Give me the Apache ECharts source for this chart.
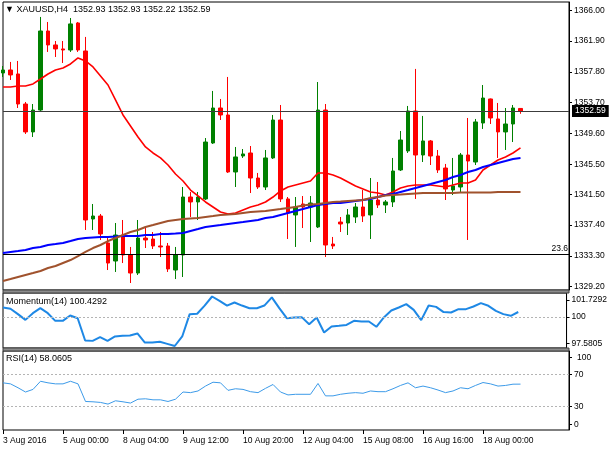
<!DOCTYPE html>
<html>
<head>
<meta charset="utf-8">
<script src="https://cdn.jsdelivr.net/npm/echarts@6/dist/echarts.min.js"></script>
<style>
html, body { margin: 0; padding: 0; background: #fff; }
#chart { width: 610px; height: 450px; }
</style>
</head>
<body>
<div id="chart"></div>
<script>
// XAUUSD H4, one entry per bar, oldest first
var timeLabels = ['3 Aug 2016', '5 Aug 00:00', '8 Aug 04:00', '9 Aug 12:00', '10 Aug 20:00',
    '12 Aug 04:00', '15 Aug 08:00', '16 Aug 16:00', '18 Aug 00:00'];
var priceTicks = [1329.20, 1333.30, 1337.40, 1341.50, 1345.50, 1349.60, 1353.70, 1357.80, 1361.90, 1366.00];
var momTicks = [97.5805, 100, 101.7292];
var rsiTicks = [0, 30, 70, 100];
var rsiLevels = [70, 30];

// open, close, low, high
var ohlc = [
    [1357.65, 1358.05, 1357.12, 1358.58], [1358.05, 1357.39, 1356.72, 1359.12],
    [1357.52, 1353.52, 1352.99, 1359.25], [1353.52, 1349.80, 1349.53, 1353.79],
    [1349.80, 1352.72, 1349.13, 1353.52], [1352.72, 1363.24, 1352.59, 1365.11],
    [1363.24, 1361.38, 1360.45, 1364.44], [1361.38, 1360.85, 1359.78, 1361.91],
    [1360.85, 1360.71, 1358.98, 1361.91], [1360.71, 1364.18, 1360.45, 1364.97],
    [1364.31, 1360.71, 1360.45, 1364.44], [1360.58, 1338.08, 1336.75, 1362.45],
    [1338.21, 1338.61, 1336.75, 1340.21], [1338.61, 1336.22, 1335.42, 1338.88],
    [1335.02, 1332.35, 1331.42, 1335.82], [1332.62, 1336.08, 1331.16, 1337.68],
    [1336.08, 1333.42, 1332.35, 1338.08], [1333.42, 1331.02, 1329.69, 1334.49],
    [1331.02, 1335.68, 1330.76, 1338.08], [1335.68, 1335.42, 1334.35, 1337.28],
    [1335.55, 1334.62, 1334.22, 1336.48], [1334.62, 1334.49, 1333.15, 1336.48],
    [1334.62, 1331.56, 1331.16, 1335.02], [1331.42, 1333.42, 1330.22, 1334.49],
    [1333.42, 1341.14, 1330.49, 1342.47], [1341.14, 1340.48, 1338.48, 1341.81],
    [1340.48, 1341.14, 1338.08, 1341.81], [1340.88, 1348.46, 1340.74, 1348.99],
    [1348.33, 1352.99, 1348.20, 1355.26], [1352.99, 1352.06, 1351.39, 1354.19],
    [1352.06, 1344.47, 1344.34, 1357.12], [1344.47, 1346.47, 1342.47, 1347.80],
    [1346.60, 1346.87, 1346.34, 1347.53], [1347.00, 1343.67, 1341.67, 1347.93],
    [1343.67, 1342.47, 1342.21, 1344.34], [1342.47, 1346.34, 1342.07, 1347.40],
    [1346.34, 1351.39, 1346.20, 1352.06], [1351.39, 1340.88, 1340.48, 1353.39],
    [1340.88, 1339.01, 1335.55, 1341.14], [1338.75, 1339.81, 1334.49, 1341.14],
    [1340.21, 1339.81, 1337.01, 1341.27], [1339.81, 1340.34, 1335.15, 1341.27],
    [1337.15, 1352.72, 1337.01, 1356.45], [1352.72, 1334.75, 1333.15, 1353.52],
    [1334.88, 1334.62, 1334.22, 1335.82], [1337.81, 1337.55, 1336.48, 1338.48],
    [1337.68, 1338.75, 1336.08, 1339.54], [1338.48, 1339.81, 1337.68, 1340.34],
    [1339.81, 1338.61, 1337.81, 1342.07], [1338.75, 1340.74, 1335.55, 1343.67],
    [1340.74, 1340.08, 1339.68, 1343.14], [1340.08, 1340.48, 1339.01, 1340.74],
    [1340.48, 1344.60, 1339.81, 1346.34], [1344.74, 1348.73, 1344.60, 1349.93],
    [1347.27, 1352.59, 1347.00, 1353.26], [1352.59, 1346.73, 1340.88, 1358.19],
    [1346.73, 1348.60, 1345.80, 1351.93], [1348.60, 1346.60, 1345.40, 1348.73],
    [1346.60, 1344.74, 1344.34, 1347.40], [1345.00, 1342.21, 1340.74, 1345.54],
    [1342.07, 1342.61, 1341.41, 1346.34], [1342.47, 1346.73, 1341.81, 1347.00],
    [1346.73, 1345.93, 1335.42, 1351.66], [1345.80, 1351.13, 1345.40, 1351.53],
    [1350.99, 1354.32, 1350.20, 1356.05], [1354.19, 1351.66, 1350.86, 1354.25],
    [1351.53, 1349.80, 1346.34, 1353.66], [1349.80, 1350.86, 1347.40, 1352.99],
    [1350.86, 1352.99, 1348.46, 1353.39], [1352.93, 1352.59, 1352.22, 1352.93]
];

var maRed = [1355.79, 1355.79, 1355.92, 1355.92, 1356.19, 1356.85, 1357.52, 1358.05, 1358.32, 1358.85,
    1359.65, 1359.25, 1358.45, 1357.25, 1356.05, 1354.06, 1352.06, 1350.59, 1349.13, 1347.80,
    1347.00, 1346.34, 1345.40, 1344.20, 1343.27, 1342.07, 1341.28, 1340.48, 1339.81, 1339.14,
    1338.88, 1339.01, 1339.41, 1339.81, 1340.08, 1340.48, 1341.14, 1341.94, 1342.47, 1342.74,
    1343.01, 1343.27, 1344.34, 1344.34, 1344.07, 1343.67, 1343.14, 1342.61, 1342.21, 1341.81,
    1341.67, 1341.41, 1341.81, 1342.34, 1342.61, 1342.74, 1342.74, 1342.74, 1342.61, 1342.47,
    1342.74, 1343.01, 1343.01, 1343.41, 1344.74, 1345.40, 1346.07, 1346.47, 1347.00, 1347.67];

var maBlue = [1333.69, 1333.82, 1333.95, 1334.09, 1334.35, 1334.49, 1334.75, 1334.88, 1335.02, 1335.28,
    1335.55, 1335.68, 1335.75, 1335.82, 1335.82, 1335.88, 1335.95, 1335.95, 1335.95, 1336.08,
    1336.08, 1336.22, 1336.22, 1336.28, 1336.35, 1336.62, 1336.88, 1337.15, 1337.28, 1337.41,
    1337.55, 1337.68, 1337.81, 1337.95, 1338.08, 1338.35, 1338.48, 1338.75, 1339.01, 1339.28,
    1339.54, 1339.81, 1340.08, 1340.21, 1340.34, 1340.34, 1340.48, 1340.61, 1340.74, 1340.88,
    1341.14, 1341.41, 1341.54, 1341.81, 1342.07, 1342.34, 1342.61, 1342.87, 1343.14, 1343.41,
    1343.81, 1344.07, 1344.47, 1344.74, 1345.14, 1345.40, 1345.67, 1345.93, 1346.20, 1346.34];

var maBrown = [1329.96, 1330.22, 1330.49, 1330.76, 1331.02, 1331.29, 1331.69, 1331.95, 1332.35, 1332.75,
    1333.28, 1333.82, 1334.35, 1334.75, 1335.28, 1335.68, 1336.08, 1336.48, 1336.75, 1337.15,
    1337.41, 1337.68, 1337.95, 1338.08, 1338.21, 1338.28, 1338.35, 1338.48, 1338.61, 1338.75,
    1338.81, 1338.88, 1339.01, 1339.14, 1339.21, 1339.28, 1339.41, 1339.54, 1339.68, 1339.81,
    1340.01, 1340.14, 1340.21, 1340.34, 1340.48, 1340.54, 1340.61, 1340.68, 1340.74, 1341.01,
    1341.14, 1341.34, 1341.41, 1341.47, 1341.54, 1341.61, 1341.67, 1341.67, 1341.67, 1341.67,
    1341.67, 1341.74, 1341.74, 1341.74, 1341.74, 1341.74, 1341.81, 1341.81, 1341.81, 1341.81];

var momentum = [100.81, 100.70, 100.25, 99.77, 100.33, 100.75, 100.33, 99.69, 99.69, 100.14,
    99.91, 98.04, 98.01, 98.32, 98.01, 98.38, 98.43, 98.46, 98.63, 97.87,
    97.87, 97.93, 97.76, 97.5805, 98.38, 100.25, 100.28, 100.97, 101.7292, 101.37,
    100.97, 101.23, 100.97, 100.75, 100.75, 100.97, 101.65, 100.75, 99.91, 99.97,
    100.00, 99.41, 99.97, 98.71, 99.22, 99.27, 99.35, 99.69, 99.63, 99.63,
    99.19, 99.97, 100.56, 100.81, 101.09, 100.61, 99.75, 100.97, 100.86, 100.42,
    100.39, 100.67, 100.67, 100.89, 101.17, 100.95, 100.53, 100.25, 100.11, 100.4292];

var rsi = [59.7, 58.4, 53.5, 48.1, 51.4, 61.7, 59.7, 58.4, 58.4, 61.7,
    58.4, 36.1, 35.7, 34.9, 32.8, 37.0, 35.7, 34.1, 39.0, 39.5,
    38.2, 38.2, 36.1, 39.0, 48.1, 47.3, 49.4, 55.6, 60.5, 59.7,
    50.2, 52.2, 51.4, 48.5, 47.3, 52.7, 57.6, 48.1, 44.4, 45.2,
    45.2, 45.2, 58.9, 43.2, 43.2, 45.2, 46.5, 47.3, 46.5, 49.4,
    48.5, 48.5, 52.2, 56.4, 59.7, 53.5, 55.6, 53.5, 50.6, 47.3,
    49.4, 53.5, 52.2, 56.4, 60.1, 58.4, 55.6, 56.4, 58.0, 58.0605];

var lastPrice = 1352.59;
var fibo236 = 1333.51;

var FONT = '"Liberation Sans", Arial, sans-serif';
var FS = 8.5;
var BAR_PX = 7.5;          // width of one H4 bar
var PLOT_W = 610 - 3 - 41; // plot width in px
var xMax = PLOT_W / BAR_PX;

function indexed(arr) {
    return arr.map(function (v, i) { return [i, v]; });
}

var candleData = ohlc.map(function (d, i) { return [i, d[0], d[1], d[2], d[3]]; });

// momentum panel: keep the extremes a few pixels inside the frame
var momMin = Math.min.apply(null, momentum), momMax = Math.max.apply(null, momentum);
var momH = 55;
var momUnit = (momMax - momMin) / (momH - 5.5);
var momAxisMin = momMin - 2 * momUnit, momAxisMax = momMax + 3.5 * momUnit;
var momLabelAt = momTicks.map(function (v) {
    if (v === momMax) return v - 3.5 * momUnit;
    if (v === momMin) return v + 2.7 * momUnit;
    return v;
});

// RSI panel: the 0 and 100 captions sit just inside the frame
var RSI_TOP = 351;
var rsiH = 79;
var rsiUnit = 100 / rsiH;
var rsiLabelAt = rsiTicks.map(function (v) {
    if (v === 100) return v - 6.5 * rsiUnit;
    if (v === 0) return v + 5.7 * rsiUnit;
    return v;
});
// the axis drops its top caption, so that one is written as a title
var rsiAxisLabelAt = rsiLabelAt.slice(0, rsiLabelAt.length - 1);

function labelFrom(at, texts) {
    return function (v) {
        var best = 0;
        for (var i = 1; i < at.length; i++) {
            if (Math.abs(at[i] - v) < Math.abs(at[best] - v)) best = i;
        }
        return texts[best];
    };
}

var xTickAt = timeLabels.map(function (t, i) { return i * 8; });

function xAxisFor(gi, withLabels) {
    return {
        type: 'value',
        gridIndex: gi,
        min: 0,
        max: xMax,
        axisLine: { show: false, onZero: false },
        splitLine: { show: false },
        axisTick: {
            show: withLabels,
            customValues: xTickAt,
            length: 4,
            lineStyle: { color: '#000' }
        },
        axisLabel: {
            show: withLabels,
            customValues: xTickAt,
            align: 'left',
            margin: 6,
            color: '#000',
            fontSize: FS,
            fontFamily: FONT,
            formatter: function (v) { return timeLabels[Math.round(v / 8)] || ''; }
        }
    };
}

function yAxisBase(gi) {
    return {
        type: 'value',
        gridIndex: gi,
        position: 'right',
        scale: true,
        splitLine: { show: false },
        axisLine: { show: true, onZero: false, lineStyle: { color: '#000', width: 1 } },
        axisTick: { show: true, length: 3, lineStyle: { color: '#000' } },
        axisLabel: {
            color: '#000', fontSize: FS, fontFamily: FONT, margin: 5,
            showMinLabel: true, showMaxLabel: true, hideOverlap: false
        }
    };
}

var yMain = yAxisBase(0);
yMain.min = 1328.76;
yMain.max = 1367.10;
yMain.axisTick.customValues = priceTicks;
yMain.axisLabel.customValues = priceTicks;
yMain.axisLabel.formatter = function (v) { return v.toFixed(2); };

var yMom = yAxisBase(1);
yMom.min = momAxisMin;
yMom.max = momAxisMax;
yMom.axisTick.customValues = momLabelAt;
yMom.axisLabel.customValues = momLabelAt;
yMom.axisLabel.formatter = labelFrom(momLabelAt, momTicks.map(String));

var yRsi = yAxisBase(2);
yRsi.min = 0;
yRsi.max = 100;
yRsi.axisTick.customValues = rsiLabelAt;
yRsi.axisLabel.customValues = rsiAxisLabelAt;
yRsi.axisLabel.formatter = labelFrom(rsiLabelAt, rsiTicks.map(String));

var gridBase = { left: 3, right: 41, show: true, borderColor: '#000', borderWidth: 1, backgroundColor: '#fff' };
function grid(top, height) {
    return Object.assign({}, gridBase, { top: top, height: height });
}

var levelStyle = { color: '#b4b4b4', type: [2, 2], width: 1 };
var titleStyle = { fontSize: 9, fontWeight: 'normal', color: '#000', fontFamily: FONT };
var axisTextStyle = { fontSize: FS, fontWeight: 'normal', color: '#000', fontFamily: FONT };

// grey separator bands between the panes
function band(y) {
    return {
        type: 'rect', silent: true, z: 100,
        shape: { x: 3, y: y, width: PLOT_W, height: 3 },
        style: { fill: '#8c8c8c', stroke: '#404040', lineWidth: 1 }
    };
}

var chart = echarts.init(document.getElementById('chart'));
var option = {
    animation: false,
    backgroundColor: '#fff',
    textStyle: { fontFamily: FONT },
    title: [
        { text: '\u25BC XAUUSD,H4  1352.93 1352.93 1352.22 1352.59', left: 5, top: 5, padding: 0, textStyle: titleStyle },
        { text: 'Momentum(14) 100.4292', left: 6, top: 297, padding: 0, textStyle: titleStyle },
        { text: 'RSI(14) 58.0605', left: 6, top: 354, padding: 0, textStyle: titleStyle },
        { text: String(rsiTicks[rsiTicks.length - 1]), left: 3 + PLOT_W + 8, top: RSI_TOP + 2,
          padding: 0, z: 10, textStyle: axisTextStyle }
    ],
    graphic: [band(290), band(348)],
    grid: [grid(2, 288), grid(293, momH), grid(RSI_TOP, rsiH)],
    xAxis: [xAxisFor(0, false), xAxisFor(1, false), xAxisFor(2, true)],
    yAxis: [yMain, yMom, yRsi],
    series: [
        {
            name: 'XAUUSD',
            type: 'candlestick',
            xAxisIndex: 0,
            yAxisIndex: 0,
            data: candleData,
            encode: { x: 0, y: [1, 2, 3, 4] },
            barWidth: 4,
            itemStyle: {
                color: '#008000',
                color0: '#ff0000',
                borderColor: '#008000',
                borderColor0: '#ff0000',
                borderWidth: 1
            },
            markLine: {
                silent: true,
                symbol: 'none',
                animation: false,
                data: [
                    {
                        yAxis: lastPrice,
                        lineStyle: { color: '#3c3c3c', type: 'solid', width: 1 },
                        label: {
                            show: true,
                            position: 'end',
                            distance: 3,
                            formatter: lastPrice.toFixed(2),
                            backgroundColor: '#000',
                            color: '#fff',
                            padding: [2, 3, 1, 3],
                            fontSize: FS,
                            fontFamily: FONT
                        }
                    },
                    {
                        yAxis: fibo236,
                        lineStyle: { color: '#000', type: 'solid', width: 1 },
                        label: {
                            show: true,
                            position: 'insideEndTop',
                            distance: 1,
                            formatter: '23.6',
                            color: '#000',
                            fontSize: FS,
                            fontFamily: FONT
                        }
                    }
                ]
            }
        },
        {
            name: 'MA red', type: 'line', xAxisIndex: 0, yAxisIndex: 0,
            data: indexed(maRed), showSymbol: false, silent: true,
            lineStyle: { color: '#ff0000', width: 1.6 }
        },
        {
            name: 'MA blue', type: 'line', xAxisIndex: 0, yAxisIndex: 0,
            data: indexed(maBlue), showSymbol: false, silent: true,
            lineStyle: { color: '#0000ff', width: 2 }
        },
        {
            name: 'MA brown', type: 'line', xAxisIndex: 0, yAxisIndex: 0,
            data: indexed(maBrown), showSymbol: false, silent: true,
            lineStyle: { color: '#a0522d', width: 2 }
        },
        {
            name: 'Momentum(14)', type: 'line', xAxisIndex: 1, yAxisIndex: 1,
            data: indexed(momentum), showSymbol: false, silent: true,
            lineStyle: { color: '#1e88e5', width: 2 },
            markLine: {
                silent: true, symbol: 'none', animation: false,
                label: { show: false },
                lineStyle: levelStyle,
                data: [{ yAxis: 100 }]
            }
        },
        {
            name: 'RSI(14)', type: 'line', xAxisIndex: 2, yAxisIndex: 2,
            data: indexed(rsi), showSymbol: false, silent: true,
            lineStyle: { color: '#3d9be9', width: 1 },
            markLine: {
                silent: true, symbol: 'none', animation: false,
                label: { show: false },
                lineStyle: levelStyle,
                data: rsiLevels.map(function (v) { return { yAxis: v }; })
            }
        }
    ]
};
chart.setOption(option);
window.addEventListener('resize', function () {
    chart.resize();
});
</script>
</body>
</html>
